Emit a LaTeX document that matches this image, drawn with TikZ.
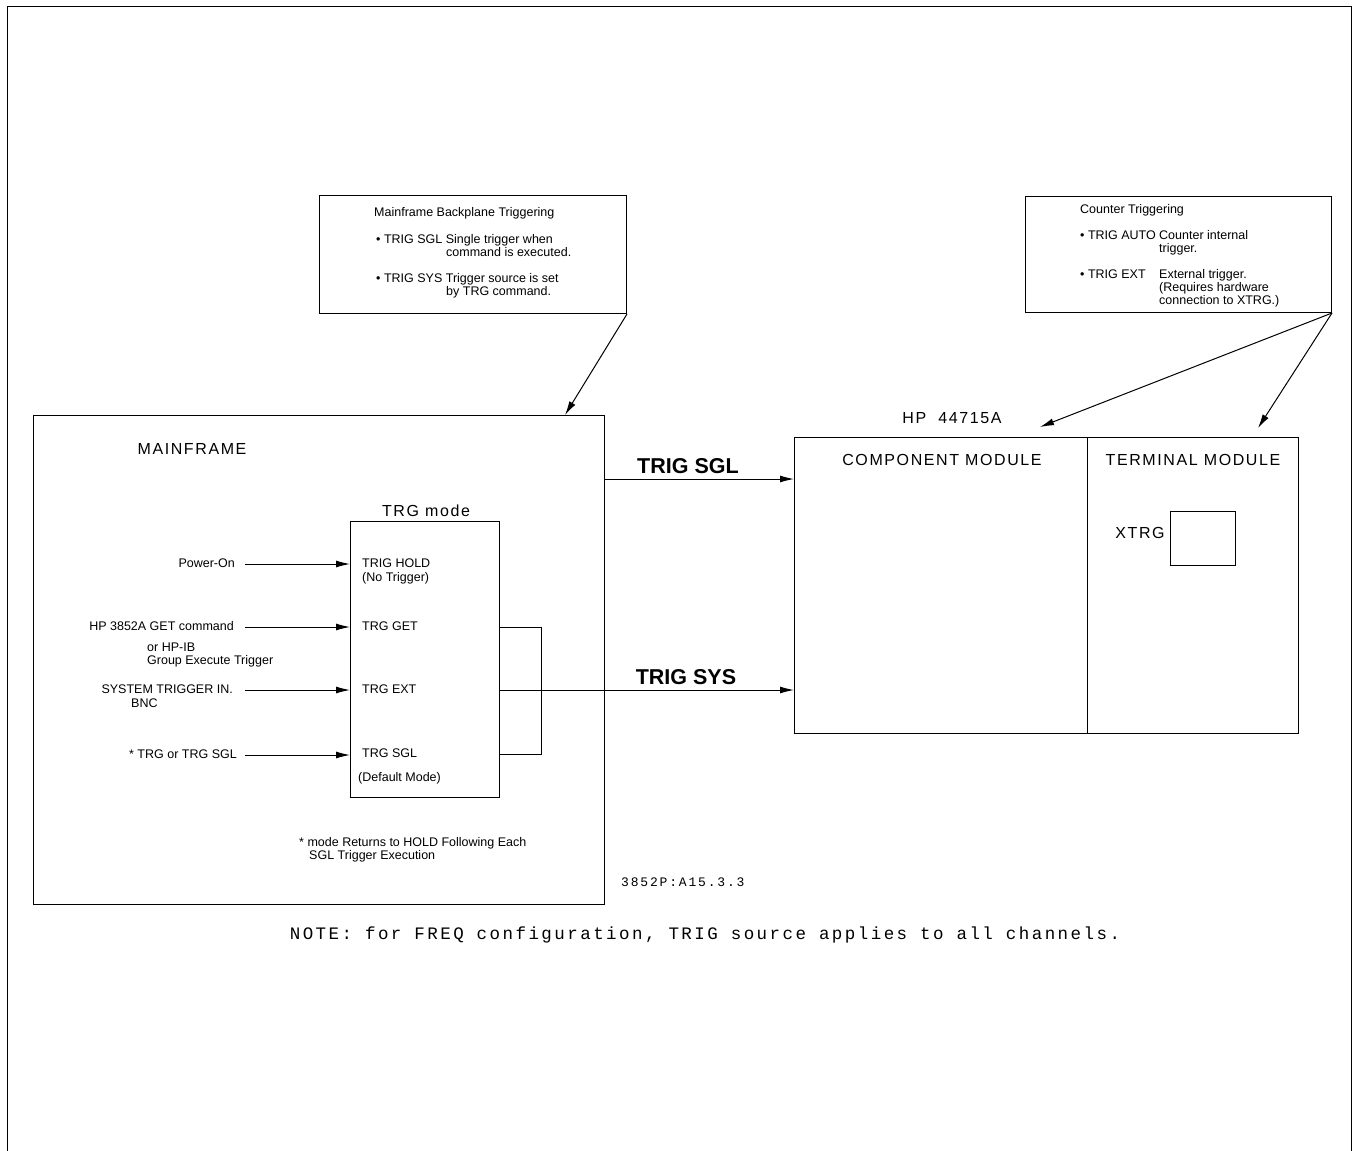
\documentclass[tikz,border=0pt]{standalone}
\usepackage{fontspec}
\setmainfont{Liberation Sans}
\newfontfamily\notefont[LetterSpace=14]{Liberation Mono}
\newfontfamily\strokefont[LetterSpace=10]{Liberation Sans}
\usetikzlibrary{arrows.meta}
\begin{document}
\begin{tikzpicture}[x=1pt,y=-1pt,
  box/.style={draw, line width=1pt, inner sep=0pt, anchor=north west},
  sm/.style={font=\fontsize{12.5}{14}\selectfont, inner sep=0pt, text height=9pt, text depth=2.5pt},
  stk/.style={font=\strokefont\fontsize{16}{18}\selectfont, inner sep=0pt},
  bigb/.style={font=\bfseries\fontsize{21.5}{23}\selectfont, inner sep=0pt},
  ln/.style={line width=1pt},
  arr/.style={line width=1pt, -{Latex[length=14pt,width=7pt]}},
]
\useasboundingbox (0,0) rectangle (1353,1151);
% outer frame (open at bottom)
\draw[ln] (7,1151) -- (7,6) -- (1351,6) -- (1351,1151);

% callout boxes
\node[box, minimum width=307pt, minimum height=118pt] (c1) at (319,195) {};
\node[sm, anchor=west] (c1t) at (374,213) {Mainframe Backplane Triggering};
\node[sm, anchor=west] (c1a) at (376,240) {• TRIG SGL Single trigger when};
\node[sm, anchor=west] (c1b) at (446,253) {command is executed.};
\node[sm, anchor=west] (c1c) at (376,279) {• TRIG SYS Trigger source is set};
\node[sm, anchor=west] (c1d) at (446,292) {by TRG command.};

\node[box, minimum width=306pt, minimum height=116pt] (c2) at (1025,196) {};
\node[sm, anchor=west] (c2t) at (1080,210) {Counter Triggering};
\node[sm, anchor=west] (c2a) at (1080,236) {• TRIG AUTO};
\node[sm, anchor=west] (c2b) at (1159,236) {Counter internal};
\node[sm, anchor=west] (c2c) at (1159,249) {trigger.};
\node[sm, anchor=west] (c2d) at (1080,275) {• TRIG EXT};
\node[sm, anchor=west] (c2e) at (1159,275) {External trigger.};
\node[sm, anchor=west] (c2f) at (1159,288) {(Requires hardware};
\node[sm, anchor=west] (c2g) at (1159,301) {connection to XTRG.)};

% mainframe
\node[box, minimum width=571pt, minimum height=489pt] (mf) at (33,415) {};
\node[stk] (mft) at (192,449) {MAINFRAME};

% TRG mode box
\node[box, minimum width=149pt, minimum height=276pt] (trg) at (350,521) {};
\node[stk] (trgt) at (426,511) {TRG mode};
\node[sm, anchor=west] (thold) at (362,564) {TRIG HOLD};
\node[sm, anchor=west] (tnot) at (362,578) {(No Trigger)};
\node[sm, anchor=west] (tget) at (362,627) {TRG GET};
\node[sm, anchor=west] (text) at (362,690) {TRG EXT};
\node[sm, anchor=west] (tsgl) at (362,754) {TRG SGL};
\node[sm, anchor=west] (tdef) at (358,778) {(Default Mode)};

% inputs
\node[sm, anchor=east] (pwr) at (235,564) {Power-On};
\node[sm, anchor=east] (hpget) at (234,627) {HP 3852A GET command};
\node[sm, anchor=west] (hpib) at (147,648) {or HP-IB};
\node[sm, anchor=west] (grp) at (147,661) {Group Execute Trigger};
\node[sm, anchor=east] (sys) at (233,690) {SYSTEM TRIGGER IN.};
\node[sm, anchor=west] (bnc) at (131,704) {BNC};
\node[sm, anchor=east] (trgin) at (237,755) {* TRG or TRG SGL};

\draw[arr] ([xshift=10pt]pwr.east) -- (trg.west |- pwr.east);
\draw[arr] ([xshift=11pt]hpget.east) -- (trg.west |- hpget.east);
\draw[arr] ([xshift=12pt]sys.east) -- (trg.west |- sys.east);
\draw[arr] ([xshift=8pt]trgin.east) -- (trg.west |- trgin.east);

% bracket
\draw[ln] (trg.east |- tget) -- ++(41,0) |- (trg.east |- tsgl);

% footnote
\node[sm, anchor=west] (fn1) at (299,843) {* mode Returns to HOLD Following Each};
\node[sm, anchor=west] (fn2) at (309,856) {SGL Trigger Execution};
\node[font=\notefont\fontsize{13}{15}\selectfont, inner sep=0pt, anchor=west] (ref) at (621,882) {3852P:A15.3.3};

% module
\node[box, minimum width=293pt, minimum height=296pt] (cm) at (794,437) {};
\node[box, minimum width=211pt, minimum height=296pt] (tm) at (1087,437) {};
\node[stk] (hp) at (952,418) {HP\ \ 44715A};
\node[stk] (cmt) at (942,460) {COMPONENT MODULE};
\node[stk] (tmt) at (1193,460) {TERMINAL MODULE};
\node[box, minimum width=65pt, minimum height=54pt] (xb) at (1170,511) {};
\node[stk] (xt) at (1140,533) {XTRG};

% trigger connections
\coordinate (ysgl) at (0,479);
\draw[arr] (mf.east |- ysgl) -- (cm.west |- ysgl);
\node[bigb] (lsgl) at (688,466) {TRIG SGL};
\draw[arr] (trg.east |- text) -- (cm.west |- text);
\node[bigb] (lsys) at (686,677) {TRIG SYS};

% callout arrows
\coordinate (a1) at (565,415);
\coordinate (a2) at (1040,427);
\coordinate (a3) at (1258,428);
\draw[arr] (c1.south east) -- (a1);
\draw[arr] (c2.south east) -- (a2);
\draw[arr] (c2.south east) -- (a3);

% note
\node[font=\notefont\fontsize{17.5}{19}\selectfont, inner sep=0pt] (note) at (705,935) {NOTE: for FREQ configuration, TRIG source applies to all channels.};
\end{tikzpicture}
\end{document}
